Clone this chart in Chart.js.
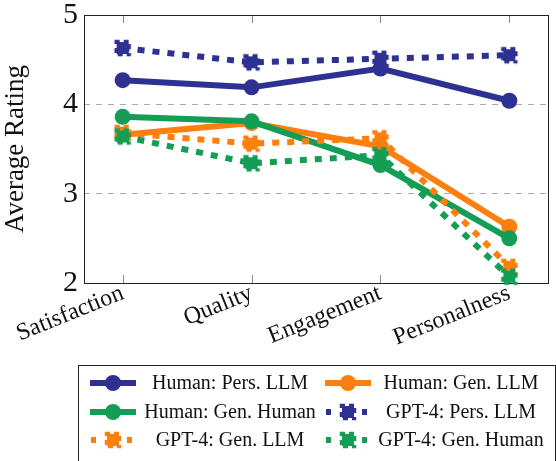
<!DOCTYPE html>
<html>
<head>
<meta charset="utf-8">
<script src="https://cdn.jsdelivr.net/npm/chart.js@4"></script>
<style>
  html, body { margin: 0; padding: 0; background: #fff; }
  #wrap { width: 556px; height: 461px; position: relative; }
</style>
</head>
<body>
<div id="wrap"><canvas id="chart"></canvas></div>
<script>
// dados
const categories = ['Satisfaction', 'Quality', 'Engagement', 'Personalness'];
const yTicks = [2, 3, 4, 5];

const humanPersLLM = [4.27, 4.19, 4.40, 4.04];
const humanGenLLM = [3.66, 3.79, 3.53, 2.63];
const humanGenHuman = [3.86, 3.81, 3.32, 2.50];
const gptPersLLM = [4.63, 4.47, 4.51, 4.55];
const gptGenLLM = [3.68, 3.56, 3.62, 2.18];
const gptGenHuman = [3.64, 3.34, 3.43, 2.07];

const seriesNames = [
    'Human: Pers. LLM', 'Human: Gen. LLM', 'Human: Gen. Human',
    'GPT-4: Pers. LLM', 'GPT-4: Gen. LLM', 'GPT-4: Gen. Human'
];
const seriesValues = [humanPersLLM, humanGenLLM, humanGenHuman, gptPersLLM, gptGenLLM, gptGenHuman];

const NAVY = 'rgb(46, 49, 146)';
const ORANGE = 'rgb(255, 127, 14)';
const GREEN = 'rgb(20, 158, 85)';
const seriesColors = [NAVY, ORANGE, GREEN, NAVY, ORANGE, GREEN];

const SERIF = "'Liberation Serif', serif";

// marcador quadrado com contorno pontilhado
const squareMarker = (color) => {
    const c = document.createElement('canvas');
    c.width = 20; c.height = 20;
    const g = c.getContext('2d');
    g.fillStyle = color;
    g.fillRect(4, 4, 12, 12);
    g.strokeStyle = color;
    g.lineWidth = 2.5;
    g.setLineDash([5, 4]);
    g.lineDashOffset = 1;
    g.strokeRect(3, 3, 14, 14);
    return c;
};

const datasets = seriesValues.map((vals, i) => {
    const dotted = i >= 3;
    return {
        label: seriesNames[i],
        data: vals.map((v, k) => ({ x: k, y: v })),
        borderColor: seriesColors[i],
        backgroundColor: seriesColors[i],
        borderWidth: 6,
        borderDash: dotted ? [7, 8] : [],
        borderCapStyle: 'butt',
        pointStyle: dotted ? squareMarker(seriesColors[i]) : 'circle',
        pointRadius: 8,
        pointBorderWidth: 0,
        pointHoverRadius: 8,
        tension: 0,
        clip: false,
        order: seriesValues.length - i,
        _dotted: dotted
    };
});

// moldura e marcas de escala dentro do gráfico
const frame = {
    id: 'frame',
    beforeDatasetsDraw(chart) {
        const { ctx, chartArea: a, scales } = chart;
        ctx.save();
        ctx.strokeStyle = '#888';
        ctx.lineWidth = 1;
        scales.x.ticks.forEach(t => {
            const x = Math.round(scales.x.getPixelForValue(t.value)) + 0.5;
            ctx.beginPath();
            ctx.moveTo(x, a.top); ctx.lineTo(x, a.top + 8);
            ctx.moveTo(x, a.bottom); ctx.lineTo(x, a.bottom - 8);
            ctx.stroke();
        });
        ctx.strokeStyle = '#222';
        ctx.strokeRect(Math.round(a.left) + 0.5, Math.round(a.top) + 0.5,
            Math.round(a.right - a.left), Math.round(a.bottom - a.top));
        ctx.restore();
    }
};

// legenda em duas colunas
const legendBox = {
    id: 'legendBox',
    afterDraw(chart) {
        const { ctx } = chart;
        ctx.save();
        ctx.strokeStyle = '#222';
        ctx.lineWidth = 1;
        ctx.strokeRect(78.5, 365.5, 477, 110);
        const symX = [113, 348];
        const textX = [230, 461];
        const rowY = [383, 412, 440];
        chart.data.datasets.forEach((ds, i) => {
            const col = i % 2, row = Math.floor(i / 2);
            const cx = symX[col], cy = rowY[row];
            ctx.strokeStyle = ds.borderColor;
            ctx.lineWidth = 6;
            ctx.setLineDash(ds._dotted ? [5, 13] : []);
            ctx.lineDashOffset = ds._dotted ? -1 : 0;
            ctx.beginPath();
            ctx.moveTo(cx - 23, cy); ctx.lineTo(cx + 23, cy);
            ctx.stroke();
            ctx.setLineDash([]);
            if (ds._dotted) {
                ctx.drawImage(ds.pointStyle, cx - 10, cy - 10);
            } else {
                ctx.fillStyle = ds.borderColor;
                ctx.beginPath();
                ctx.arc(cx, cy, 8, 0, Math.PI * 2);
                ctx.fill();
            }
            ctx.fillStyle = '#111';
            ctx.font = '20px ' + SERIF;
            ctx.textAlign = 'center';
            ctx.textBaseline = 'middle';
            ctx.fillText(ds.label, textX[col], cy + 1);
        });
        ctx.restore();
    }
};

new Chart(document.getElementById('chart'), {
    type: 'line',
    data: { datasets },
    plugins: [frame, legendBox],
    options: {
        responsive: true,
        maintainAspectRatio: false,
        animation: false,
        events: [],
        layout: { padding: { top: 15, right: 6, left: 0, bottom: 0 } },
        plugins: {
            legend: { display: false },
            tooltip: { enabled: false }
        },
        scales: {
            x: {
                type: 'linear',
                min: -0.3,
                max: 3.3,
                afterBuildTicks: (scale) => {
                    scale.ticks = categories.map((_, i) => ({ value: i }));
                },
                afterFit: (scale) => {
                    scale.height = 178;
                    scale.paddingLeft = 0;
                    scale.paddingRight = 0;
                },
                grid: { display: false },
                border: { display: false },
                ticks: {
                    autoSkip: false,
                    minRotation: 22,
                    maxRotation: 22,
                    padding: -12,
                    color: '#111',
                    font: { family: SERIF, size: 24 },
                    callback: (v) => categories[v]
                }
            },
            y: {
                min: 2,
                max: 5,
                afterBuildTicks: (scale) => {
                    scale.ticks = yTicks.map(v => ({ value: v }));
                },
                afterFit: (scale) => {
                    scale.width = 84;
                    scale.paddingTop = 0;
                    scale.paddingBottom = 0;
                },
                grid: {
                    color: '#aaa',
                    lineWidth: 1,
                    drawTicks: false
                },
                border: { display: false, dash: [6, 6] },
                ticks: {
                    padding: 6,
                    color: '#111',
                    font: { family: SERIF, size: 30 }
                },
                title: {
                    display: true,
                    text: 'Average Rating',
                    color: '#111',
                    padding: { top: 0, bottom: 6 },
                    font: { family: SERIF, size: 27 }
                }
            }
        }
    }
});
</script>
</body>
</html>
